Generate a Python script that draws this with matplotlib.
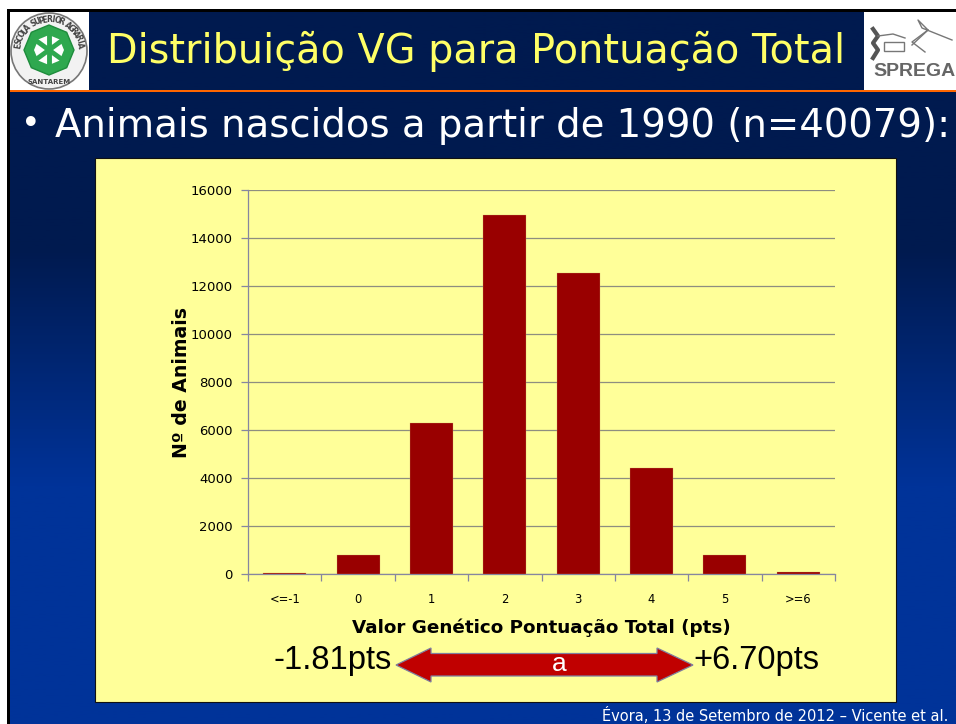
import numpy as np
import matplotlib
matplotlib.use("Agg")
import matplotlib.pyplot as plt
from matplotlib.colors import LinearSegmentedColormap
from matplotlib.patches import Circle, Polygon, Rectangle, RegularPolygon

# ---- Data ----
categories = ["<=-1", "0", "1", "2", "3", "4", "5", ">=6"]
n_animais = [30, 800, 6280, 14950, 12530, 4420, 800, 100]
y_ticks = [0, 2000, 4000, 6000, 8000, 10000, 12000, 14000, 16000]

W, H = 956, 724
fig = plt.figure(figsize=(W / 100, H / 100), dpi=100, facecolor="white")

# ---- Slide background, in pixel coordinates ----
bg = fig.add_axes([0, 0, 1, 1])
grad = LinearSegmentedColormap.from_list("slide", ["#001A4F", "#001A4F", "#003399", "#003399"])
bg.imshow(np.linspace(0, 1, 256).reshape(-1, 1), cmap=grad, aspect="auto",
          extent=(10, W, H, 12), zorder=0)
bg.set_xlim(0, W)
bg.set_ylim(H, 0)
bg.axis("off")
bg.add_patch(Rectangle((7, 9), W - 7, 3, fc="black", ec="none", zorder=1))
bg.add_patch(Rectangle((7, 9), 3, H - 9, fc="black", ec="none", zorder=1))
bg.add_patch(Rectangle((10, 90), W - 10, 2, fc="#FF6600", ec="none", zorder=2))

# left logo
bg.add_patch(Rectangle((10, 12), 79, 78, fc="white", ec="none", zorder=2))
bg.add_patch(Circle((49, 51), 38, fc="#F2F2F2", ec="#777777", lw=1.2, zorder=3))
bg.add_patch(RegularPolygon((49, 50), 8, radius=25, fc="#2FA84F", ec="#1E8C3C", zorder=4))
bg.add_patch(RegularPolygon((49, 50), 8, radius=15, fc="white", ec="none", zorder=4))
bg.plot([38, 60], [42, 58], color="#2FA84F", lw=3.5, zorder=5)
bg.plot([38, 60], [58, 42], color="#2FA84F", lw=3.5, zorder=5)
bg.plot([49, 49], [36, 64], color="#2FA84F", lw=3.5, zorder=5)
ring = "ESCOLA SUPERIOR AGRARIA"
for ch, ang in zip(ring, np.linspace(170, 10, len(ring))):
    a = np.radians(ang)
    bg.text(49 + 31.5 * np.cos(a), 51 - 31.5 * np.sin(a), ch, fontsize=5.5, fontweight="bold",
            color="#444444", rotation=ang - 90, ha="center", va="center", zorder=5)
bg.text(49, 82, "SANTAREM", fontsize=5, fontweight="bold", color="#444444",
        ha="center", va="center", zorder=5)

# right logo
narrow = ["Liberation Sans Narrow", "Liberation Sans"]
bg.add_patch(Rectangle((864, 12), 92, 78, fc="white", ec="none", zorder=2))
bg.text(873, 76, "SPREGA", fontsize=14, fontweight="bold", color="#666666",
        family=narrow, ha="left", va="baseline", zorder=3)
bg.plot([873, 878, 873, 878, 873], [29, 36, 43, 50, 58], color="#555555", lw=3, zorder=3)
bg.plot([878, 893, 905], [36, 34, 38], color="#777777", lw=1, zorder=3)
bg.add_patch(Rectangle((884, 42), 20, 9, fc="none", ec="#777777", lw=1, zorder=3))
bg.plot([912, 928, 918, 922, 952], [45, 30, 20, 28, 40], color="#777777", lw=1, zorder=3)
bg.plot([928, 912, 925], [30, 42, 52], color="#777777", lw=1, zorder=3)

# titles
bg.text(476, 51, "Distribuição VG para Pontuação Total", color="#FFFF66", fontsize=28.6,
        ha="center", va="center", zorder=3)
bg.text(21, 125, "•", color="white", fontsize=24, ha="left", va="center", zorder=3)
bg.text(55, 126, "Animais nascidos a partir de 1990 (n=40079):", color="white", fontsize=27.8,
        ha="left", va="center", zorder=3)

# chart panel
bg.add_patch(Rectangle((95, 158), 801, 544, fc="#FFFF99", ec="#111111", lw=0.8, zorder=2))

# footer
bg.text(602, 721, "Évora, 13 de Setembro de 2012 – Vicente et al.", color="white", fontsize=10.5,
        ha="left", va="baseline", zorder=3)

# ---- Chart ----
ax = fig.add_axes([248 / W, 1 - 574 / H, (835 - 248) / W, (574 - 190) / H])
ax.patch.set_alpha(0)
x = np.arange(len(categories))
ax.bar(x, n_animais, width=0.585, color="#990000", edgecolor="#C9A36A", linewidth=0.2, zorder=3)
ax.set_xlim(-0.5, len(categories) - 0.5)
ax.set_ylim(0, 16000)

ax.set_yticks(y_ticks)
ax.set_yticklabels([str(v) for v in y_ticks], fontsize=9.5)
ax.yaxis.grid(True, color="#8E8E80", lw=0.9, zorder=1)
ax.set_axisbelow(True)
ax.tick_params(axis="y", length=5, width=0.9, color="#8686A0", pad=6)

ax.set_xticks(np.arange(len(categories) + 1) - 0.5)
ax.set_xticklabels([])
ax.set_xticks(x, minor=True)
ax.set_xticklabels(categories, minor=True, fontsize=8.3)
ax.tick_params(axis="x", which="major", length=5, width=0.9, color="#8686A0")
ax.tick_params(axis="x", which="minor", length=0, pad=13.5)

for side in ["top", "right"]:
    ax.spines[side].set_visible(False)
for side in ["left", "bottom"]:
    ax.spines[side].set_color("#8686A0")
    ax.spines[side].set_linewidth(0.9)

ax.set_xlabel("Valor Genético Pontuação Total (pts)", fontsize=13.2, fontweight="bold", labelpad=9)
ax.set_ylabel("Nº de Animais", fontsize=13.6, fontweight="bold", labelpad=0)

# ---- Range arrow ----
arrow = Polygon([(396, 665), (431, 648), (431, 653.5), (657, 653.5), (657, 648), (693, 665),
                 (657, 682), (657, 676), (431, 676), (431, 682)],
                closed=True, fc="#C00000", ec="#7F7F9F", lw=0.9, zorder=3)
bg.add_patch(arrow)
bg.text(559, 664, "a", color="white", fontsize=19, family=narrow, ha="center", va="center", zorder=4)
bg.text(333, 661, "-1.81pts", color="black", fontsize=23.5, family=narrow, ha="center", va="center", zorder=4)
bg.text(756, 661, "+6.70pts", color="black", fontsize=23.5, family=narrow, ha="center", va="center", zorder=4)

fig.savefig("out.png", dpi=100)
